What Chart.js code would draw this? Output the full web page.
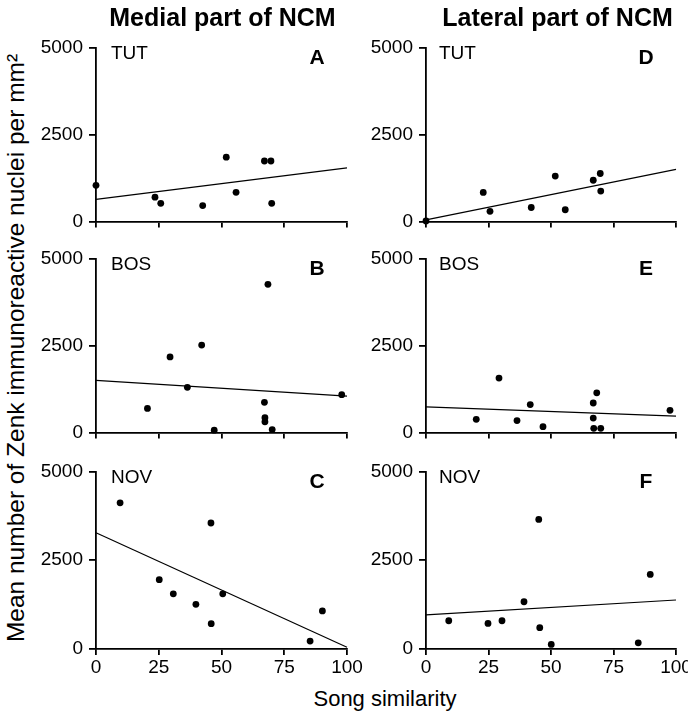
<!DOCTYPE html>
<html>
<head>
<meta charset="utf-8">
<script src="https://cdn.jsdelivr.net/npm/chart.js@4/dist/chart.umd.min.js"></script>
<style>
  html, body { margin:0; padding:0; width:688px; height:719px; overflow:hidden; background:#fff; }
  body { position:relative; font-family:"Liberation Sans", Arial, Helvetica, sans-serif; color:#000; }
  canvas { position:absolute; }
  .t { position:absolute; line-height:1; white-space:nowrap; }
  .head { font-size:25px; font-weight:bold; transform:translateX(-50%); }
  .stim { font-size:19px; }
  .let { font-size:21px; font-weight:bold; transform:translateX(-50%); }
</style>
</head>
<body>
<script>
// ---- data ----
const xTicks = [0, 25, 50, 75, 100];
const yTicks = [0, 2500, 5000];
const fitX = [0, 100];

// Medial part of NCM
const medTutX = [0, 23.5, 25.8, 42.5, 51.9, 55.8, 67.1, 69.7, 70.0];
const medTutY = [1040, 700, 525, 460, 1850, 840, 1740, 1740, 525];
const medTutFit = [640, 1540];

const medBosX = [20.5, 29.5, 36.4, 42.1, 47.1, 67.1, 67.3, 67.3, 68.5, 70.2, 97.9];
const medBosY = [694, 2171, 1300, 2512, 69, 868, 427, 308, 4256, 88, 1088];
const medBosFit = [1500, 1045];

const medNovX = [9.6, 25.2, 30.8, 39.8, 45.8, 45.9, 50.5, 85.3, 90.2];
const medNovY = [4114, 1951, 1552, 1258, 3548, 712, 1552, 222, 1073];
const medNovFit = [3275, 50];

// Lateral part of NCM
const latTutX = [0, 22.9, 25.6, 42.1, 51.7, 55.7, 66.9, 69.7, 69.9];
const latTutY = [20, 836, 295, 405, 1306, 340, 1187, 1380, 875];
const latTutFit = [50, 1500];

const latBosX = [20.1, 29.2, 36.4, 41.7, 46.8, 66.9, 66.9, 67.1, 68.3, 69.9, 97.6];
const latBosY = [380, 1565, 344, 804, 171, 849, 418, 124, 1143, 124, 639];
const latBosFit = [740, 475];

const latNovX = [9.1, 24.8, 30.4, 39.2, 45.1, 45.5, 50.1, 84.9, 89.7];
const latNovY = [795, 720, 795, 1330, 3647, 601, 130, 175, 2100];
const latNovFit = [960, 1380];

const columnTitles = ["Medial part of NCM", "Lateral part of NCM"];
const stimuli = ["TUT", "BOS", "NOV"];
const letters = [["A", "B", "C"], ["D", "E", "F"]];
const xTitle = "Song similarity";
const yTitle = "Mean number of Zenk immunoreactive nuclei per mm\u00B2";

const series = [
  [[medTutX, medTutY, medTutFit], [medBosX, medBosY, medBosFit], [medNovX, medNovY, medNovFit]],
  [[latTutX, latTutY, latTutFit], [latBosX, latBosY, latBosFit], [latNovX, latNovY, latNovFit]]
];

// ---- layout ----
const colArea = [{l: 96, r: 347}, {l: 426, r: 676}];
const rowTop = [44, 255, 468];
const areaH = 181;
const FONT = '"Liberation Sans", Arial, Helvetica, sans-serif';

function addText(txt, cls, left, top, extraStyle) {
  const d = document.createElement('div');
  d.className = 't ' + cls;
  d.textContent = txt;
  d.style.left = left + 'px';
  d.style.top = top + 'px';
  if (extraStyle) Object.assign(d.style, extraStyle);
  document.body.appendChild(d);
  return d;
}

function makePanel(ci, ri) {
  const ca = colArea[ci];
  const top = rowTop[ri];
  const bottomRow = ri === 2;
  const yW = 60, padTop = 14, padRight = 20;
  const xH = bottomRow ? 32 : 14;
  const w = (ca.r - ca.l) + yW + padRight;
  const h = areaH + padTop + xH;
  const cv = document.createElement('canvas');
  cv.width = w; cv.height = h;
  cv.style.left = (ca.l - yW) + 'px';
  cv.style.top = (top - padTop) + 'px';
  cv.style.width = w + 'px'; cv.style.height = h + 'px';
  document.body.appendChild(cv);

  const [xs, ys, fit] = series[ci][ri];
  const pts = xs.map((x, i) => ({x: x, y: ys[i]}));
  const line = fitX.map((x, i) => ({x: x, y: fit[i]}));

  new Chart(cv, {
    type: 'scatter',
    data: {
      datasets: [
        { data: pts, showLine: false, pointRadius: 3.4, pointHoverRadius: 3.4,
          backgroundColor: '#000', borderColor: '#000', borderWidth: 0, clip: false },
        { data: line, showLine: true, pointRadius: 0, borderColor: '#000',
          borderWidth: 1.2, backgroundColor: '#000', clip: false }
      ]
    },
    options: {
      responsive: false, animation: false, devicePixelRatio: 1,
      layout: { padding: { left: 0, right: padRight, top: padTop, bottom: 0 } },
      plugins: { legend: { display: false }, tooltip: { enabled: false }, title: { display: false } },
      events: [],
      scales: {
        x: {
          type: 'linear', min: 0, max: 100,
          afterBuildTicks: s => { s.ticks = xTicks.map(v => ({value: v})); },
          afterFit: s => { s.height = xH; },
          border: { display: true, color: '#000', width: 1.8 },
          grid: { drawOnChartArea: false, drawTicks: true, tickLength: 6, color: '#000', lineWidth: 1.8 },
          ticks: { display: bottomRow, color: '#000', padding: 1, maxRotation: 0, autoSkip: false,
                   font: { family: FONT, size: 19 } }
        },
        y: {
          type: 'linear', min: 0, max: 5000,
          afterBuildTicks: s => { s.ticks = yTicks.map(v => ({value: v})); },
          afterFit: s => { s.width = yW; },
          border: { display: true, color: '#000', width: 1.8 },
          grid: { drawOnChartArea: false, drawTicks: true, tickLength: 7, color: '#000', lineWidth: 1.8 },
          ticks: { color: '#000', padding: 6, font: { family: FONT, size: 19 },
                   callback: v => String(v) }
        }
      }
    }
  });

  // stimulus label and panel letter
  const stimLeft = ci === 0 ? 111 : 439;
  addText(stimuli[ri], 'stim', stimLeft, top + 1 - 2.5);
  addText(letters[ci][ri], 'let', ca.r - 30, top + 5 - 2.8);
}

for (let ci = 0; ci < 2; ci++) for (let ri = 0; ri < 3; ri++) makePanel(ci, ri);

// column titles
addText(columnTitles[0], 'head', 222.5, 5);
addText(columnTitles[1], 'head', 557.5, 5);

// axis titles
addText(xTitle, '', 385, 688, { fontSize: '22px', transform: 'translateX(-50%)' });
addText(yTitle, '', 16, 348, { fontSize: '24.5px', transform: 'translate(-50%,-50%) rotate(-90deg)' });
</script>
</body>
</html>
